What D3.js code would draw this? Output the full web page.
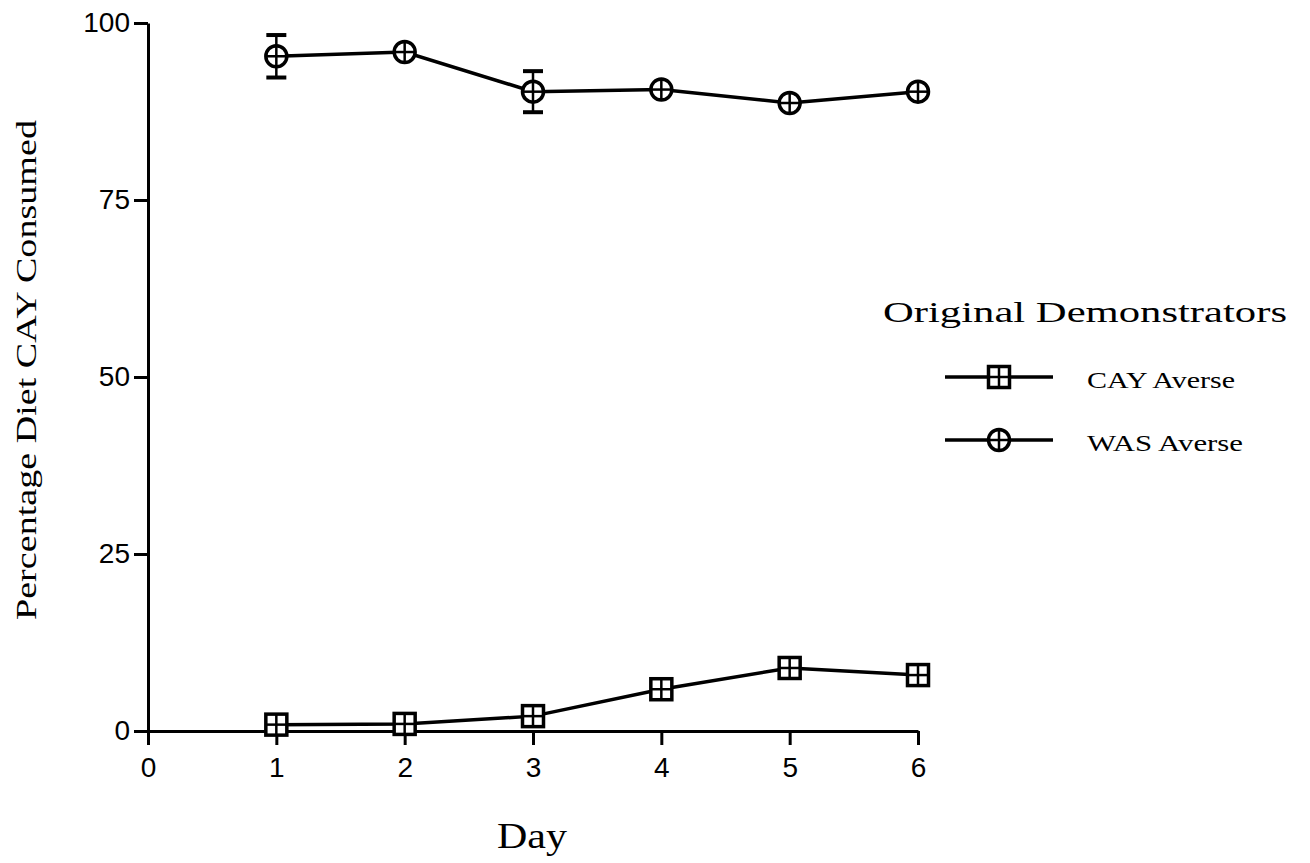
<!DOCTYPE html>
<html><head><meta charset="utf-8">
<script src="https://cdn.jsdelivr.net/npm/d3@7"></script>
<style>body{margin:0;background:#fff}</style>
</head><body>
<svg id="c" width="1310" height="863"></svg>
<script>
const days = [1, 2, 3, 4, 5, 6];
const wasAverse = [95.3, 95.9, 90.3, 90.6, 88.7, 90.3];
const wasErr = [3.0, 0, 2.9, 0, 0, 0];
const cayAverse = [0.9, 1.0, 2.1, 5.9, 8.9, 7.9];
const xTicks = [0, 1, 2, 3, 4, 5, 6];
const yTicks = [0, 25, 50, 75, 100];
const seriesNames = ["CAY Averse", "WAS Averse"];

const svg = d3.select("#c");
const x = d3.scaleLinear().domain([0, 6]).range([148, 918]);
const y = d3.scaleLinear().domain([0, 100]).range([731, 23]);
const serif = "'Liberation Serif', 'DejaVu Serif', serif";
const sans = "'Liberation Sans', Arial, sans-serif";

// axes
const yAxis = svg.append("g").attr("transform", `translate(${x(0)},0)`)
  .call(d3.axisLeft(y).tickValues(yTicks).tickFormat(d3.format("d")).tickSize(14).tickSizeOuter(0).tickPadding(4));
const xAxis = svg.append("g").attr("transform", `translate(0,${y(0)})`)
  .call(d3.axisBottom(x).tickValues(xTicks).tickFormat(d3.format("d")).tickSize(14).tickSizeOuter(0).tickPadding(12));
[yAxis, xAxis].forEach(g => {
  g.select(".domain").attr("stroke", "#000").attr("stroke-width", 3);
  g.selectAll(".tick line").attr("stroke", "#000").attr("stroke-width", 3);
  g.selectAll(".tick text").attr("fill", "#000").style("font-family", sans).style("font-size", "28px");
});

// lines
const line = d3.line().x((d, i) => x(days[i])).y(d => y(d));
svg.append("path").datum(cayAverse).attr("d", line).attr("fill", "none").attr("stroke", "#000").attr("stroke-width", 3.5);
svg.append("path").datum(wasAverse).attr("d", line).attr("fill", "none").attr("stroke", "#000").attr("stroke-width", 3.5);

// error bars
days.forEach((d, i) => {
  if (wasErr[i] > 0) {
    const cx = x(d);
    svg.append("line").attr("x1", cx).attr("x2", cx).attr("y1", y(wasAverse[i] + wasErr[i])).attr("y2", y(wasAverse[i] - wasErr[i])).attr("stroke", "#000").attr("stroke-width", 2.5);
    [wasAverse[i] + wasErr[i], wasAverse[i] - wasErr[i]].forEach(v => {
      svg.append("line").attr("x1", cx - 10).attr("x2", cx + 10).attr("y1", y(v)).attr("y2", y(v)).attr("stroke", "#000").attr("stroke-width", 4);
    });
  }
});

function circleMarker(g, cx, cy) {
  g.append("circle").attr("cx", cx).attr("cy", cy).attr("r", 10.5).attr("fill", "#fff").attr("stroke", "#000").attr("stroke-width", 3.5);
  g.append("line").attr("x1", cx - 10).attr("x2", cx + 10).attr("y1", cy).attr("y2", cy).attr("stroke", "#000").attr("stroke-width", 2.5);
  g.append("line").attr("x1", cx).attr("x2", cx).attr("y1", cy - 10).attr("y2", cy + 10).attr("stroke", "#000").attr("stroke-width", 2.5);
}
function squareMarker(g, cx, cy) {
  g.append("rect").attr("x", cx - 10.5).attr("y", cy - 10.5).attr("width", 21).attr("height", 21).attr("fill", "#fff").attr("stroke", "#000").attr("stroke-width", 3.5);
  g.append("line").attr("x1", cx - 10).attr("x2", cx + 10).attr("y1", cy).attr("y2", cy).attr("stroke", "#000").attr("stroke-width", 2.5);
  g.append("line").attr("x1", cx).attr("x2", cx).attr("y1", cy - 10).attr("y2", cy + 10).attr("stroke", "#000").attr("stroke-width", 2.5);
}
const mk = svg.append("g");
days.forEach((d, i) => { squareMarker(mk, x(d), y(cayAverse[i])); circleMarker(mk, x(d), y(wasAverse[i])); });

// axis titles
svg.append("text").attr("x", 497).attr("y", 848)
  .attr("textLength", 70).attr("lengthAdjust", "spacingAndGlyphs")
  .style("font-family", serif).style("font-size", "36px").text("Day");
svg.append("text").attr("transform", `translate(36,620) rotate(-90)`)
  .attr("textLength", 500).attr("lengthAdjust", "spacingAndGlyphs")
  .style("font-family", serif).style("font-size", "29px").text("Percentage Diet CAY Consumed");

// legend
svg.append("text").attr("x", 883).attr("y", 322)
  .attr("textLength", 404).attr("lengthAdjust", "spacingAndGlyphs")
  .style("font-family", serif).style("font-size", "30px").text("Original Demonstrators");
const legY = [377, 440];
const legLen = [148, 156];
seriesNames.forEach((n, i) => {
  const ly = legY[i];
  svg.append("line").attr("x1", 945).attr("x2", 1053).attr("y1", ly).attr("y2", ly).attr("stroke", "#000").attr("stroke-width", 3.5);
  if (i === 0) squareMarker(svg, 999, ly); else circleMarker(svg, 999, ly);
  svg.append("text").attr("x", 1087).attr("y", ly + 11)
    .attr("textLength", legLen[i]).attr("lengthAdjust", "spacingAndGlyphs")
    .style("font-family", serif).style("font-size", "24px").text(n);
});
</script>
</body></html>
